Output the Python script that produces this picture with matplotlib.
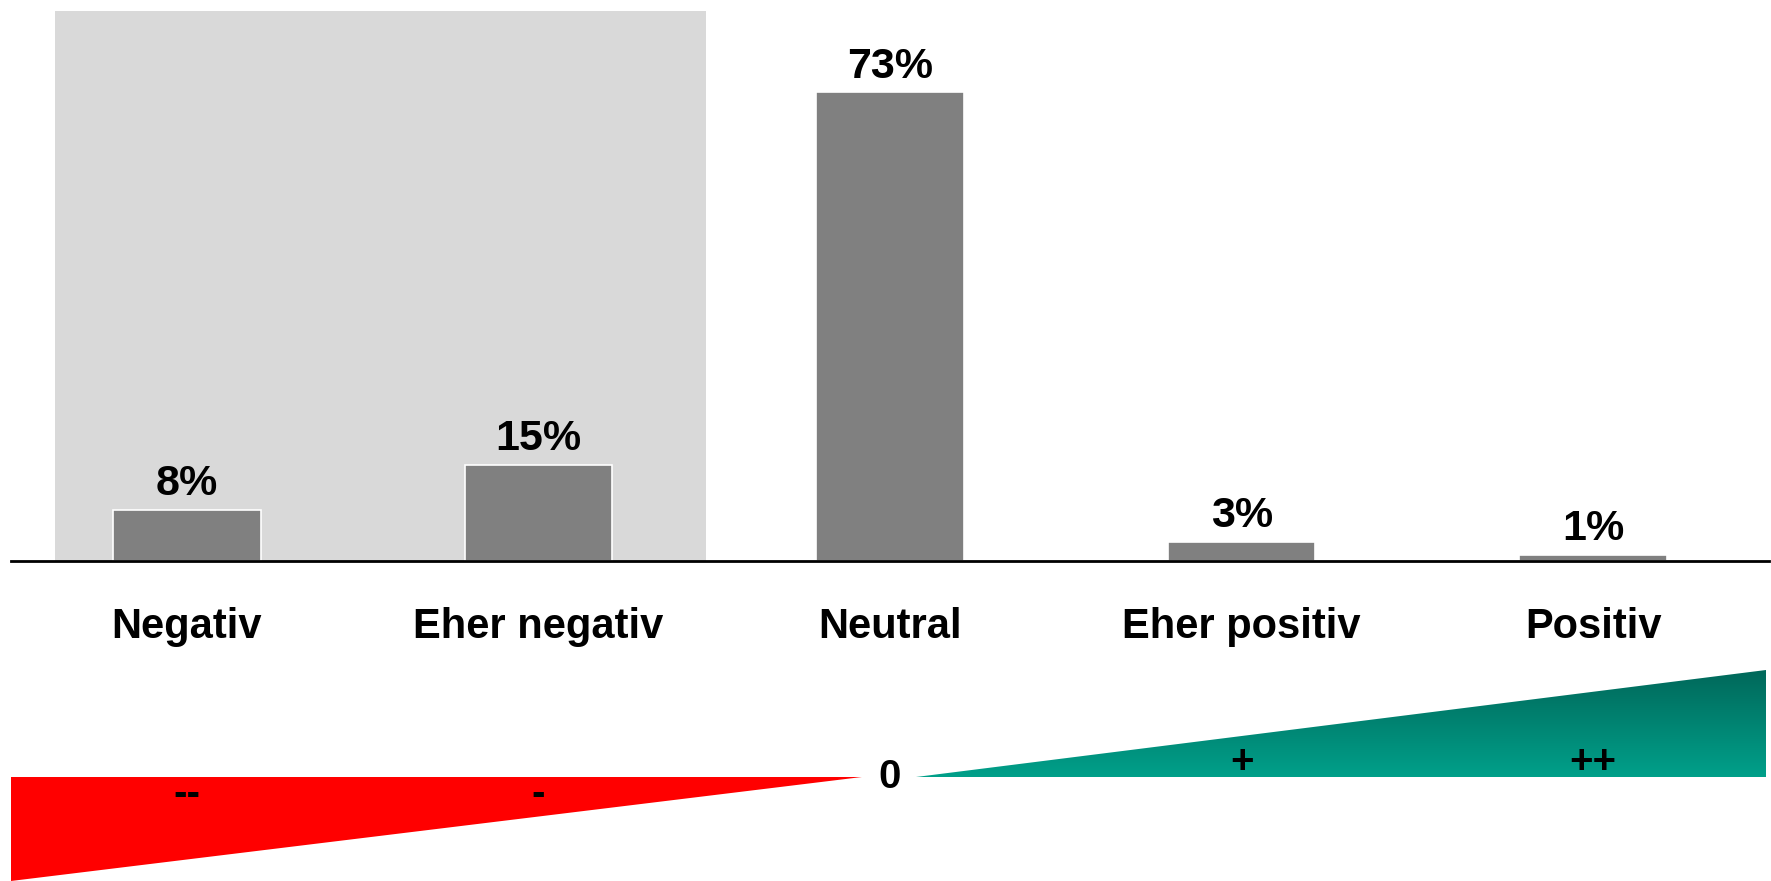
import matplotlib.pyplot as plt
import numpy as np
from matplotlib.patches import Polygon, Rectangle
from matplotlib.colors import LinearSegmentedColormap

categories = ["Negativ", "Eher negativ", "Neutral", "Eher positiv", "Positiv"]
values = [8, 15, 73, 3, 1]
scale_marks = ["--", "-", "0", "+", "++"]

plt.rcParams["font.family"] = ["Liberation Sans", "DejaVu Sans"]

fig = plt.figure(figsize=(17.71, 8.81), dpi=100)
ax = fig.add_axes([0.0062, 0.3632, 0.9927, 0.6368])
ax2 = fig.add_axes([0.0062, 0.0, 0.9927, 0.3632])

x = np.arange(len(categories))

# grauer Hintergrund hinter den negativen Kategorien
ax.add_patch(Rectangle((-0.374, 0), 1.852, 85.7, facecolor="#D9D9D9",
                       edgecolor="none", zorder=0))
bars = ax.bar(x, values, width=0.42, color="#808080", edgecolor="white",
              linewidth=1.2, zorder=2)
for b, v in zip(bars, values):
    ax.annotate(f"{v}%", (b.get_x() + b.get_width() / 2, v),
                xytext=(0, 4), textcoords="offset points",
                ha="center", va="bottom", fontsize=31, fontweight="bold")

ax.set_xlim(-0.5, 4.5)
ax.set_ylim(0, 87.4)
for s in ["top", "right", "left"]:
    ax.spines[s].set_visible(False)
ax.spines["bottom"].set_linewidth(2)
ax.spines["bottom"].set_zorder(3)
ax.set_xticks([])
ax.set_yticks([])

# Skala unten: rotes und grünes Dreieck
ax2.set_xlim(-0.5, 4.5)
ax2.set_ylim(0, 1)
ax2.axis("off")

for i, c in enumerate(categories):
    ax2.text(i, 0.794, c, ha="center", va="center", fontsize=30,
             fontweight="bold")

base = 0.325
ax2.add_patch(Polygon([(-0.5, base), (1.92, base), (-0.5, 0.0)],
                      closed=True, facecolor="#FF0000", edgecolor="none"))

green = Polygon([(2.074, base), (4.49, base), (4.49, 0.659)], closed=True,
                facecolor="none", edgecolor="none")
ax2.add_patch(green)
cmap = LinearSegmentedColormap.from_list("gr", ["#00A08A", "#00685A"])
grad = np.linspace(0, 1, 256).reshape(-1, 1)
im = ax2.imshow(grad, cmap=cmap, extent=(2.074, 4.49, base, 0.659),
                origin="lower", aspect="auto", zorder=1)
im.set_clip_path(green)
ax2.set_xlim(-0.5, 4.5)
ax2.set_ylim(0, 1)

mark_y = [0.272, 0.272, base, 0.372, 0.372]
for i, (m, yy) in enumerate(zip(scale_marks, mark_y)):
    ax2.text(i, yy, m, ha="center", va="center", fontsize=29,
             fontweight="bold", zorder=3)

fig.savefig("out.png", dpi=100)
